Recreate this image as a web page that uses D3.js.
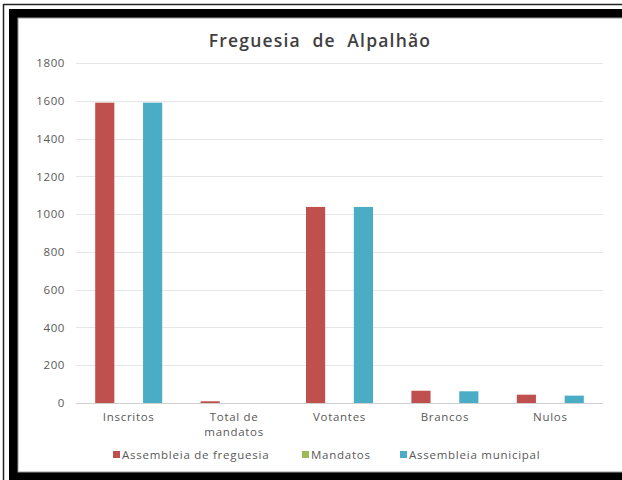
<!DOCTYPE html>
<html><head><meta charset="utf-8">
<script src="https://cdn.jsdelivr.net/npm/d3@7"></script>
<style>
html,body{margin:0;padding:0;background:#fff;}
svg{display:block;}
</style></head>
<body>
<svg id="c" width="622" height="480"></svg>
<script>
const title = "Freguesia  de  Alpalhão";
const categories = ["Inscritos", "Total de mandatos", "Votantes", "Brancos", "Nulos"];
const seriesNames = ["Assembleia de freguesia", "Mandatos", "Assembleia municipal"];
const assembleiaFreguesia = [1590, 9, 1038, 65, 44];
const mandatos = [0, 0, 0, 0, 0];
const assembleiaMunicipal = [1590, 0, 1038, 62, 39];
const yTicks = [0, 200, 400, 600, 800, 1000, 1200, 1400, 1600, 1800];
const colors = ["#C0504D", "#9BBB59", "#4BACC6"];

const series = [assembleiaFreguesia, mandatos, assembleiaMunicipal];
const svg = d3.select("#c");
const font = "'Open Sans', 'DejaVu Sans', sans-serif";

// frame
svg.append("rect").attr("x",0).attr("y",0).attr("width",622).attr("height",480).attr("fill","#fff");
svg.append("line").attr("x1",3.5).attr("y1",4).attr("x2",3.5).attr("y2",480).attr("stroke","#222").attr("stroke-width",1.5);
svg.append("line").attr("x1",3.5).attr("y1",4.5).attr("x2",622).attr("y2",4.5).attr("stroke","#222").attr("stroke-width",1.5);
svg.append("rect").attr("x",9).attr("y",9).attr("width",640).attr("height",471).attr("fill","#000");
svg.append("rect").attr("x",18).attr("y",18).attr("width",640).attr("height",454).attr("fill","#fff").attr("stroke","#9a9a9a").attr("stroke-width",1);

const margin = {left: 76, right: 603, top: 63, bottom: 403};
const x = d3.scaleBand().domain(categories).range([margin.left, margin.right]);
const y = d3.scaleLinear().domain([0, 1800]).range([margin.bottom, margin.top]);
const xs = d3.scaleBand().domain(d3.range(3)).range([-33.5, 33.5]).paddingInner(0.2);

// gridlines
svg.append("g").selectAll("line").data(yTicks).join("line")
  .attr("x1", margin.left).attr("x2", margin.right)
  .attr("y1", d => Math.round(y(d)) + 0.5).attr("y2", d => Math.round(y(d)) + 0.5)
  .attr("stroke", d => d === 0 ? "#d0d0d0" : "#e6e6e6").attr("stroke-width", 1);

// y axis
const yAxis = d3.axisLeft(y).tickValues(yTicks).tickSize(0).tickPadding(0).tickFormat(d3.format("d"));
const gy = svg.append("g").attr("transform", `translate(${margin.left - 11},0)`).call(yAxis);
gy.select(".domain").remove();
gy.selectAll("text").attr("font-family", font).attr("font-size", 11.5).attr("letter-spacing", 0.6).attr("fill", "#595959");

// bars
series.forEach((vals, si) => {
  svg.append("g").selectAll("rect").data(vals).join("rect")
    .attr("x", (d, i) => x(categories[i]) + x.bandwidth()/2 + xs(si))
    .attr("width", xs.bandwidth())
    .attr("y", d => y(d))
    .attr("height", d => y(0) - y(d))
    .attr("fill", colors[si]);
});

// x labels
const xAxis = d3.axisBottom(x).tickSize(0).tickPadding(0);
const gx = svg.append("g").attr("transform", `translate(0,${margin.bottom})`).call(xAxis);
gx.select(".domain").remove();
gx.selectAll("text").attr("font-family", font).attr("font-size", 11.5).attr("letter-spacing", 0.7).attr("fill", "#595959")
  .each(function(d){
    const t = d3.select(this);
    t.text(null).attr("y", 0).attr("dy", null);
    const parts = d === "Total de mandatos" ? ["Total de", "mandatos"] : [d];
    parts.forEach((p, k) => t.append("tspan").attr("x", 0).attr("y", 18 + k*15).text(p));
  });

// title
svg.append("text").attr("x", 320).attr("y", 47).attr("text-anchor", "middle")
  .attr("font-family", font).attr("font-size", 17.5).attr("font-weight", 600).attr("letter-spacing", 1.2)
  .attr("fill", "#404040").style("white-space","pre").text(title);

// legend
const legendX = [113, 302, 400];
const lg = svg.append("g");
seriesNames.forEach((n, i) => {
  lg.append("rect").attr("x", legendX[i]).attr("y", 451).attr("width", 7).attr("height", 7).attr("fill", colors[i]);
  lg.append("text").attr("x", legendX[i] + 9).attr("y", 459).attr("font-family", font).attr("font-size", 11.5)
    .attr("letter-spacing", 0.75).attr("fill", "#595959").text(n);
});
</script>
</body></html>
